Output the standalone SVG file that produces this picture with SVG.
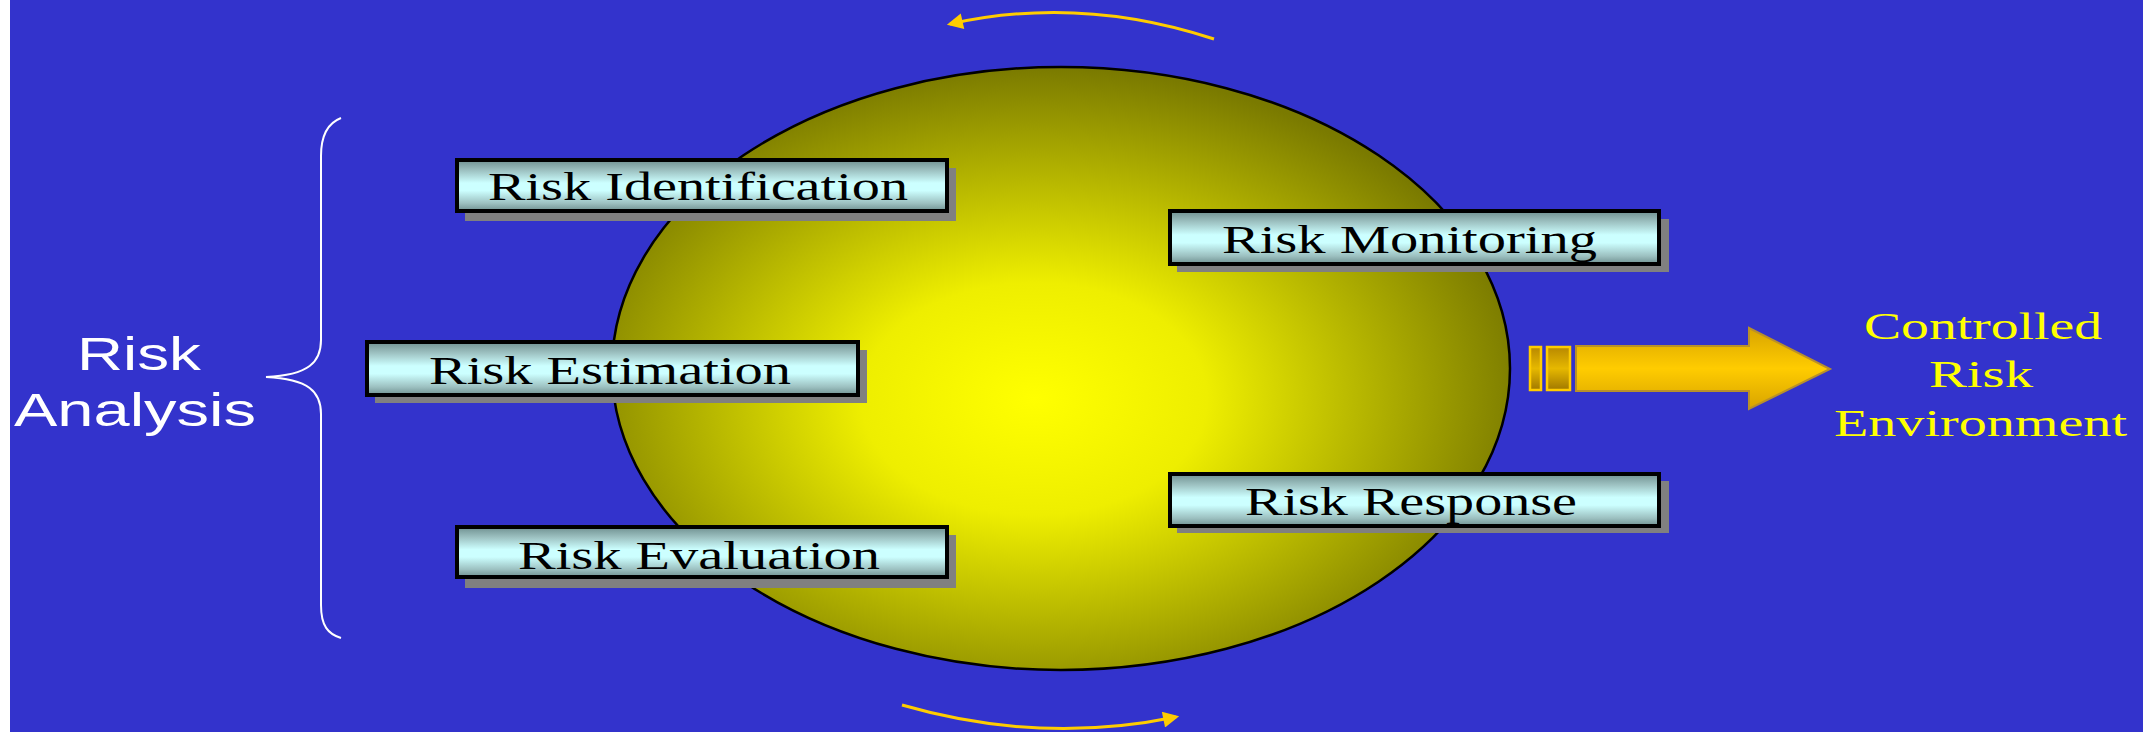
<svg xmlns="http://www.w3.org/2000/svg" width="2143" height="732" viewBox="0 0 2143 732">
<style>
.box{stroke:#000;stroke-width:4;fill:url(#boxg)}
.shadow{fill:#808080}
.lbl{font-family:"Liberation Serif","Times New Roman",serif;font-size:40px;fill:#000}
.env{font-family:"Liberation Serif","Times New Roman",serif;font-size:37px;fill:#ffff00}
.ra{font-family:"Liberation Sans",Arial,sans-serif;font-size:46px;fill:#ffffff}
.cyc{fill:none;stroke:#ffcc00;stroke-width:3}
</style>
<defs>
<radialGradient id="ballg" cx="0.47" cy="0.55" r="0.55">
<stop offset="0" stop-color="#ffff00"/>
<stop offset="0.35" stop-color="#eeee00"/>
<stop offset="1" stop-color="#7a7a00"/>
</radialGradient>
<linearGradient id="boxg" x1="0" y1="0" x2="0" y2="1">
<stop offset="0" stop-color="#6f9090"/>
<stop offset="0.2" stop-color="#9cc0c0"/>
<stop offset="0.45" stop-color="#ccffff"/>
<stop offset="0.6" stop-color="#ccffff"/>
<stop offset="0.85" stop-color="#9cc0c0"/>
<stop offset="1" stop-color="#6f9090"/>
</linearGradient>
<linearGradient id="arrg" x1="0" y1="0" x2="0" y2="1">
<stop offset="0" stop-color="#d8a400"/>
<stop offset="0.5" stop-color="#ffcc00"/>
<stop offset="1" stop-color="#d8a400"/>
</linearGradient>
<linearGradient id="barg" x1="0" y1="0" x2="0" y2="1">
<stop offset="0" stop-color="#b88800"/>
<stop offset="0.5" stop-color="#e6b800"/>
<stop offset="1" stop-color="#a07800"/>
</linearGradient>
<marker id="ah" viewBox="0 0 10 10" refX="8" refY="5" markerWidth="18" markerHeight="16" markerUnits="userSpaceOnUse" orient="auto">
<path d="M0,0 L10,5 L0,10 z" fill="#ffcc00"/>
</marker>
</defs>
<rect x="0" y="0" width="2143" height="732" fill="#3333cc"/>
<rect x="0" y="0" width="10" height="732" fill="#ffffff"/>

<g id="ball">
<ellipse cx="1061" cy="368.5" rx="449" ry="301.5" fill="url(#ballg)" stroke="#000" stroke-width="2.5"/>
</g>

<g id="connectors">
<path class="cyc" d="M1214,39 Q1080,-5 950,24" marker-end="url(#ah)"/>
<path class="cyc" d="M902,705 Q1040,745 1176,717" marker-end="url(#ah)"/>
<path d="M341,118 C328,123 321,136 321,156 L321,340 C321,362 309,375 266,377 C309,379 321,392 321,414 L321,605 C321,626 328,634 341,638" fill="none" stroke="#ffffff" stroke-width="2"/>
</g>

<g id="risk-analysis">
<text class="ra" x="77" y="370" textLength="124" lengthAdjust="spacingAndGlyphs">Risk</text>
<text class="ra" x="14" y="426" textLength="242" lengthAdjust="spacingAndGlyphs">Analysis</text>
</g>

<g id="risk-identification">
<rect class="shadow" x="465" y="168" width="491" height="53"/>
<rect class="box" x="457" y="160" width="490" height="51"/>
<text class="lbl" x="488" y="200" textLength="420" lengthAdjust="spacingAndGlyphs">Risk Identification</text>
</g>

<g id="risk-estimation">
<rect class="shadow" x="375" y="350" width="492" height="53"/>
<rect class="box" x="367" y="342" width="491" height="53"/>
<text class="lbl" x="429" y="384" textLength="362" lengthAdjust="spacingAndGlyphs">Risk Estimation</text>
</g>

<g id="risk-evaluation">
<rect class="shadow" x="465" y="535" width="491" height="53"/>
<rect class="box" x="457" y="527" width="490" height="50"/>
<text class="lbl" x="518" y="569" textLength="362" lengthAdjust="spacingAndGlyphs">Risk Evaluation</text>
</g>

<g id="risk-monitoring">
<rect class="shadow" x="1177" y="219" width="492" height="53"/>
<rect class="box" x="1170" y="211" width="489" height="53"/>
<text class="lbl" x="1222" y="253" textLength="375" lengthAdjust="spacingAndGlyphs">Risk Monitoring</text>
</g>

<g id="risk-response">
<rect class="shadow" x="1177" y="481" width="492" height="52"/>
<rect class="box" x="1170" y="474" width="489" height="52"/>
<text class="lbl" x="1245" y="515" textLength="332" lengthAdjust="spacingAndGlyphs">Risk Response</text>
</g>

<g id="arrow">
<rect x="1530" y="347" width="11" height="43" fill="url(#barg)" stroke="#ffcc00" stroke-width="2.5"/>
<rect x="1547" y="347" width="23" height="43" fill="url(#barg)" stroke="#ffcc00" stroke-width="2.5"/>
<polygon points="1576,346 1749,346 1749,328 1830,369 1749,409 1749,391 1576,391" fill="url(#arrg)" stroke="#b8902a" stroke-width="2"/>
</g>

<g id="controlled-risk-environment">
<text class="env" x="1864" y="339" textLength="238" lengthAdjust="spacingAndGlyphs">Controlled</text>
<text class="env" x="1929" y="387" textLength="104" lengthAdjust="spacingAndGlyphs">Risk</text>
<text class="env" x="1834" y="436" textLength="293" lengthAdjust="spacingAndGlyphs">Environment</text>
</g>
</svg>
